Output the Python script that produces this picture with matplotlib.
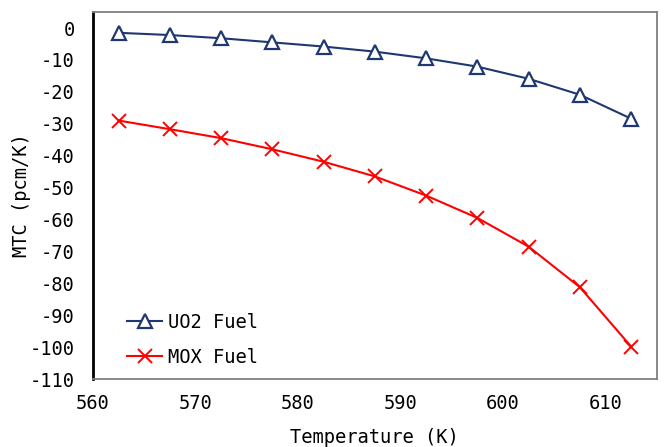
import matplotlib
matplotlib.use('Agg')
import matplotlib.pyplot as plt

# Temperatures (K) and moderator temperature coefficient (pcm/K)
temperature = [562.5, 567.5, 572.5, 577.5, 582.5, 587.5, 592.5, 597.5, 602.5, 607.5, 612.5]
mtc_uo2 = [-1.5, -2.2, -3.2, -4.5, -5.8, -7.4, -9.5, -12.1, -15.9, -20.9, -28.4]
mtc_mox = [-29.0, -31.7, -34.5, -38.0, -41.9, -46.5, -52.5, -59.5, -68.5, -81.2, -99.8]
xticks = [560, 570, 580, 590, 600, 610]
yticks = [0, -10, -20, -30, -40, -50, -60, -70, -80, -90, -100, -110]

plt.rcParams['font.family'] = ['DejaVu Sans Mono']
plt.rcParams['font.size'] = 13.5
plt.rcParams['axes.unicode_minus'] = False

fig = plt.figure(figsize=(6.64, 4.47), dpi=100)
ax = fig.add_axes([0.140, 0.152, 0.849, 0.821])

ax.plot(temperature, mtc_uo2, color='#1f3871', lw=1.5, marker='^', ms=10,
        mfc='white', mec='#1f3871', mew=1.6, label='UO2 Fuel')
ax.plot(temperature, mtc_mox, color='#ff0000', lw=1.5, marker='x', ms=10,
        mew=1.4, label='MOX Fuel')

ax.set_xlim(560, 615)
ax.set_ylim(-110, 5)
ax.set_xticks(xticks)
ax.set_yticks(yticks)
ax.tick_params(length=0)
ax.tick_params(axis='y', pad=13)
ax.tick_params(axis='x', pad=11)

for s in ['top', 'right', 'bottom']:
    ax.spines[s].set_color('#808080')
    ax.spines[s].set_linewidth(1.3)
ax.spines['left'].set_color('black')
ax.spines['left'].set_linewidth(2)

ax.set_xlabel('Temperature (K)')
ax.set_ylabel('MTC (pcm/K)')
ax.xaxis.set_label_coords(0.5, -0.158)
ax.yaxis.set_label_coords(-0.126, 0.5)
ax.xaxis.label.set_va('center')
ax.yaxis.label.set_va('center')

ax.legend(loc='lower left', bbox_to_anchor=(0.03, -0.013), frameon=False,
          handlelength=1.9, handletextpad=0.32, labelspacing=0.85)

fig.savefig('out.png', dpi=100)
